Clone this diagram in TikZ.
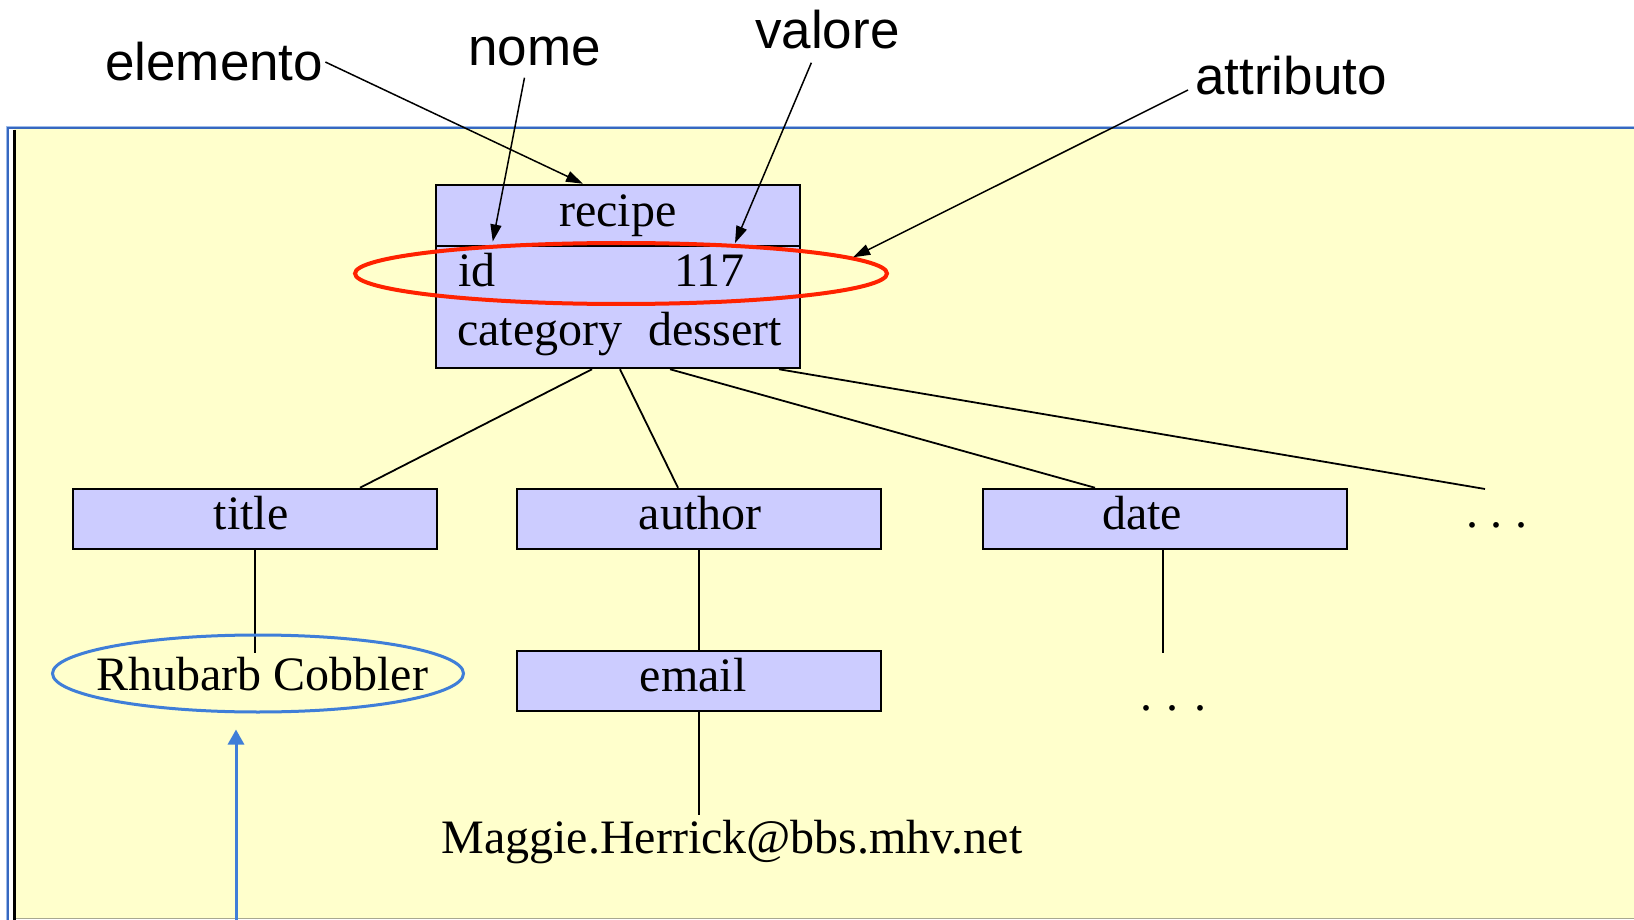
\documentclass[tikz,border=0pt]{standalone}
\usepackage{fontspec}
\setmainfont{Liberation Serif}
\newfontfamily\calloutfont{Liberation Sans}
\usetikzlibrary{arrows.meta,shapes.geometric}
\definecolor{paper}{HTML}{FFFFCC}
\definecolor{nodefill}{HTML}{CCCCFF}
\definecolor{ringred}{HTML}{FF2200}
\definecolor{ringblue}{HTML}{3F7ED8}
\definecolor{framedark}{HTML}{3768C0}
\definecolor{framelight}{HTML}{9DBCEB}
\definecolor{framegray}{HTML}{A8A890}
\begin{document}
\begin{tikzpicture}[x=1pt,y=-1pt,
  elembox/.style={draw=black, fill=nodefill, line width=2.5pt, rectangle, inner sep=0pt},
  treetext/.style={font=\fontsize{48pt}{56pt}\selectfont, inner sep=0pt},
  calloutlabel/.style={font=\calloutfont\fontsize{53pt}{60pt}\selectfont, inner sep=2pt},
  link/.style={draw=black, line width=1.8pt},
  callout/.style={draw=black, line width=1.5pt, -{Triangle[length=17pt,width=11pt]}},
  ring/.style={ellipse, inner sep=0pt, line width=3pt},
  bluearrow/.style={draw=ringblue, line width=3pt, -{Triangle[length=15pt,width=16pt]}}
]
\useasboundingbox (0,0) rectangle (1634,920);

% page and framed panel
\fill[white] (0,0) rectangle (1634,920);
\fill[paper] (14,129) rectangle (1634,918);
\draw[framegray, line width=1.5pt] (14,918.5) -- (1634,918.5);
\draw[framelight, line width=1pt] (6,920) -- (6,126.5) -- (1634,126.5);
\draw[framedark, line width=2pt] (8,920) -- (8,128.5) -- (1634,128.5);
\draw[black, line width=3.5pt] (14.5,130) -- (14.5,920);

% element boxes
\node[elembox, minimum width=364pt, minimum height=183pt] (recipe) at (618,276.5) {};
\coordinate (divy) at (0,246);
\draw[black, line width=2.5pt] (recipe.west |- divy) -- (recipe.east |- divy);
\node[elembox, minimum width=364pt, minimum height=60pt] (title)  at (255,519) {};
\node[elembox, minimum width=364pt, minimum height=60pt] (author) at (699,519) {};
\node[elembox, minimum width=364pt, minimum height=60pt] (date)   at (1165,519) {};
\node[elembox, minimum width=364pt, minimum height=60pt] (email)  at (699,681) {};

% texts of the tree
\node[treetext, anchor=base] (recipetxt) at (618,227) {recipe};
\node[treetext, anchor=base west] (idtxt) at (458,287) {id};
\node[treetext, anchor=base east] (valtxt) at (745,287) {117};
\node[treetext, anchor=base west] (cattxt) at (457,345) {category};
\node[treetext, anchor=base east] (desstxt) at (782,345) {dessert};
\node[treetext, anchor=base] (titletxt) at (251,529) {title};
\node[treetext, anchor=base] (authortxt) at (700,529) {author};
\node[treetext, anchor=base] (datetxt) at (1142,529) {date};
\node[treetext, anchor=base] (emailtxt) at (693,691) {email};
\node[treetext, anchor=base, inner ysep=3pt] (rctext) at (262,690) {Rhubarb Cobbler};
\node[treetext, anchor=base, inner ysep=5pt] (maggie) at (732,853) {Maggie.Herrick@bbs.mhv.net};
\node[treetext, anchor=base] (moredots) at (1497,527) {.\hspace{13pt}.\hspace{13pt}.};
\node[treetext, anchor=base] (datedots) at (1173,710) {.\hspace{15pt}.\hspace{15pt}.};
\coordinate (moreend) at (1485,489);
\coordinate (dateend) at (1163,653);

% tree edges
\draw[link] ([xshift=-26pt]recipe.south) -- ([xshift=105pt]title.north);
\draw[link] ([xshift=2pt]recipe.south) -- ([xshift=-21pt]author.north);
\draw[link] ([xshift=52pt]recipe.south) -- ([xshift=-70pt]date.north);
\draw[link] ([xshift=161pt]recipe.south) -- (moreend);
\draw[link] (title.south) -- (title.south |- rctext.north);
\draw[link] (author.south) -- (email.north);
\draw[link] (email.south) -- (email.south |- maggie.north);
\draw[link] (date.south -| dateend) -- (dateend);

% highlight rings
\node[ring, draw=ringred, line width=4pt, minimum width=532pt, minimum height=61pt] (redring) at (621,273.5) {};
\node[ring, draw=ringblue, minimum width=411pt, minimum height=77pt] (rcring) at (258,673.5) {};

% callout labels
\node[calloutlabel, anchor=base west] (elemento) at (103,81) {elemento};
\node[calloutlabel, anchor=base west] (nome) at (466,66) {nome};
\node[calloutlabel, anchor=base west] (valore) at (753,49) {valore};
\node[calloutlabel, anchor=base west] (attributo) at (1193,95) {attributo};

% callout arrows
\draw[callout] (elemento.east) -- ([xshift=-35pt]recipe.north);
\draw[callout] ([xshift=-10pt,yshift=-9pt]nome.south) -- ([xshift=-3pt,yshift=12pt]idtxt.north east);
\draw[callout] ([xshift=-16pt,yshift=-11pt]valore.south) -- ([xshift=-10pt,yshift=12pt]valtxt.north east);
\draw[callout] ([xshift=-5pt,yshift=5pt]attributo.base west) -- (redring.4.2);

% pointer to the text content
\coordinate (arrowfoot) at (236,921);
\draw[bluearrow] (arrowfoot) -- ([xshift=-22pt,yshift=-16pt]rcring.south);
\end{tikzpicture}
\end{document}
